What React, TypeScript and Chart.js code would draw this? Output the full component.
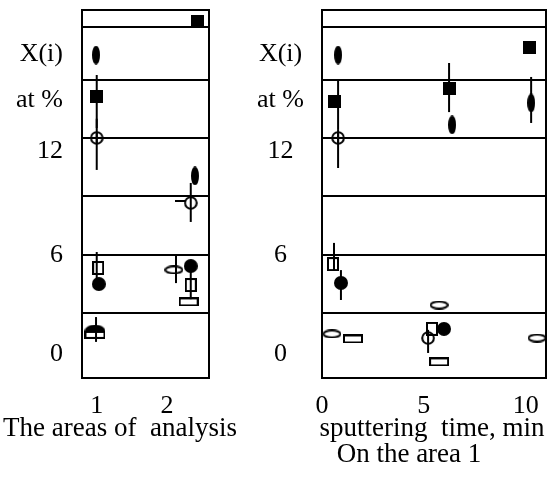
import React, { useEffect, useRef } from 'react';
import { Chart, registerables } from 'chart.js';

Chart.register(...registerables);

const FONT = "'Liberation Serif', 'Times New Roman', serif";

// ---------- axes ----------
const leftXTicks = [1, 2];
const rightXTicks = [0, 5, 10];
const yGridValues = [3, 6, 9, 12, 15, 17.7];
const yLabelValues = [0.88, 5.98, 11.34, 13.96, 16.33];
const yLabelTexts = ['0', '6', '12', 'at %', 'X(i)'];

// ---------- left panel: the areas of analysis ----------
const leftFilledSquare = [{ x: 2.44, y: 18.03 }, { x: 1.0, y: 14.12 }];
const leftFilledVEllipse = [{ x: 0.99, y: 16.28 }, { x: 2.4, y: 10.05 }];
const leftCircleCross = [{ x: 1.0, y: 12.01 }];
const leftOpenCircle = [{ x: 2.34, y: 8.66 }];
const leftOpenSquare = [{ x: 1.02, y: 5.31 }, { x: 2.34, y: 4.43 }];
const leftFilledCircle = [{ x: 1.03, y: 4.48 }, { x: 2.34, y: 5.41 }];
const leftOpenHEllipse = [{ x: 2.1, y: 5.21 }];
const leftOpenRect = [{ x: 2.31, y: 3.56 }];
const leftFilledHEllipse = [{ x: 0.975, y: 2.06 }];
const leftWhiteRect = [{ x: 0.975, y: 1.86 }];
// [x, yLow, yHigh]
const leftVErrors = [
  [1.0, 12.52, 15.25],
  [1.0, 10.36, 13.0],
  [2.34, 7.68, 9.69],
  [1.0, 4.6, 6.13],
  [2.13, 4.53, 5.98],
  [2.34, 3.7, 5.4],
  [0.99, 1.5, 2.78],
];
// [y, xLow, xHigh]
const leftHErrors = [[8.76, 2.115, 2.27]];

// ---------- right panel: sputtering time ----------
const rightFilledSquare = [{ x: 0.59, y: 13.91 }, { x: 6.24, y: 14.58 }, { x: 10.17, y: 16.69 }];
const rightFilledVEllipse = [{ x: 0.79, y: 16.28 }, { x: 6.39, y: 12.68 }, { x: 10.27, y: 13.81 }];
const rightCircleCross = [{ x: 0.79, y: 12.01 }];
const rightOpenSquare = [{ x: 0.54, y: 5.51 }, { x: 5.4, y: 2.17 }];
const rightFilledCircle = [{ x: 0.93, y: 4.54 }, { x: 5.99, y: 2.17 }];
const rightOpenCircle = [{ x: 5.21, y: 1.7 }];
const rightOpenHEllipse = [{ x: 0.49, y: 1.91 }, { x: 5.75, y: 3.4 }, { x: 10.56, y: 1.7 }];
const rightOpenRect = [{ x: 1.52, y: 1.65 }, { x: 5.75, y: 0.47 }];
const rightVErrors = [
  [0.79, 12.42, 15.0],
  [0.79, 10.46, 12.42],
  [6.24, 13.34, 15.87],
  [10.27, 12.78, 15.15],
  [0.59, 5.2, 6.6],
  [0.93, 3.66, 5.2],
  [5.21, 0.93, 2.12],
];
const rightHErrors: number[][] = [];

// ---------- marker images ----------
type Kind =
  | 'sqFilled' | 'vEllFilled' | 'circCross' | 'circOpen' | 'sqOpen'
  | 'circFilled' | 'hEllOpen' | 'rectOpen' | 'hEllFilled' | 'rectWhite';

function makeMarker(kind: Kind): HTMLCanvasElement {
  const dims: Record<Kind, [number, number]> = {
    sqFilled: [13, 13], vEllFilled: [8, 19], circCross: [14, 14], circOpen: [14, 14],
    sqOpen: [12, 14], circFilled: [14, 14], hEllOpen: [19, 9], rectOpen: [20, 9],
    hEllFilled: [21, 13], rectWhite: [21, 8],
  };
  const [w, h] = dims[kind];
  const c = document.createElement('canvas');
  c.width = w;
  c.height = h;
  const g = c.getContext('2d')!;
  g.fillStyle = '#000';
  g.strokeStyle = '#000';
  g.lineWidth = 2;
  const cx = w / 2, cy = h / 2;
  switch (kind) {
    case 'sqFilled':
      g.fillRect(0, 0, w, h);
      break;
    case 'vEllFilled':
    case 'hEllFilled':
    case 'circFilled':
      g.beginPath();
      g.ellipse(cx, cy, w / 2, h / 2, 0, 0, Math.PI * 2);
      g.fill();
      break;
    case 'circCross':
      g.beginPath();
      g.arc(cx, cy, w / 2 - 1.2, 0, Math.PI * 2);
      g.stroke();
      g.beginPath();
      g.moveTo(1, cy);
      g.lineTo(w - 1, cy);
      g.moveTo(cx, 1);
      g.lineTo(cx, h - 1);
      g.stroke();
      break;
    case 'circOpen':
      g.beginPath();
      g.arc(cx, cy, w / 2 - 1.2, 0, Math.PI * 2);
      g.stroke();
      break;
    case 'sqOpen':
    case 'rectOpen':
      g.strokeRect(1, 1, w - 2, h - 2);
      break;
    case 'hEllOpen':
      g.beginPath();
      g.ellipse(cx, cy, w / 2 - 1, h / 2 - 1, 0, 0, Math.PI * 2);
      g.stroke();
      break;
    case 'rectWhite':
      g.fillStyle = '#fff';
      g.fillRect(1, 1, w - 2, h - 2);
      g.strokeRect(1, 1, w - 2, h - 2);
      break;
  }
  return c;
}

const framePlugin = {
  id: 'frame',
  afterDatasetsDraw(chart: any) {
    const { ctx, chartArea } = chart;
    ctx.save();
    ctx.strokeStyle = '#000';
    ctx.lineWidth = 2;
    ctx.strokeRect(chartArea.left, chartArea.top, chartArea.right - chartArea.left, chartArea.bottom - chartArea.top);
    ctx.restore();
  },
};

function buildYTicks() {
  const list = [
    ...yGridValues.map((v) => ({ value: v, label: '', grid: true })),
    ...yLabelValues.map((v, i) => ({ value: v, label: yLabelTexts[i], grid: false })),
  ];
  return list.sort((a, b) => a.value - b.value);
}

function yScale(crossAlign: string, padding: number) {
  const ticks = buildYTicks();
  return {
    type: 'linear',
    min: -0.36,
    max: 18.6,
    afterBuildTicks: (s: any) => {
      s.ticks = ticks.map((t) => ({ value: t.value }));
    },
    afterFit: (s: any) => {
      s.width = 82;
      s.paddingTop = 0; s.paddingBottom = 0; s.paddingLeft = 0; s.paddingRight = 0;
    },
    grid: {
      color: (c: any) => {
        const t = c.tick && ticks.find((k) => k.value === c.tick.value);
        return t && t.grid ? '#000' : 'rgba(0,0,0,0)';
      },
      lineWidth: 2,
      drawTicks: false,
    },
    border: { display: false },
    ticks: {
      callback: (_v: any, i: number) => ticks[i].label,
      font: { family: FONT, size: 26 },
      color: '#000',
      padding,
      crossAlign,
      autoSkip: false,
    },
  };
}

function xScale(min: number, max: number, values: number[]) {
  return {
    type: 'linear',
    min,
    max,
    afterBuildTicks: (s: any) => {
      s.ticks = values.map((v) => ({ value: v }));
    },
    afterFit: (s: any) => {
      s.height = 117;
      s.paddingTop = 0; s.paddingBottom = 0; s.paddingLeft = 0; s.paddingRight = 0;
    },
    grid: { display: false, drawTicks: false },
    border: { display: false },
    ticks: {
      callback: (v: any) => String(v),
      font: { family: FONT, size: 26 },
      color: '#000',
      padding: 13,
      autoSkip: false,
      maxRotation: 0,
    },
  };
}

function markerSet(data: any[], kind: Kind) {
  return {
    data,
    pointStyle: makeMarker(kind),
    pointRadius: 6,
    pointHoverRadius: 6,
    showLine: false,
  };
}

function errorSets(v: number[][], h: number[][]) {
  const sets: any[] = [];
  v.forEach(([x, lo, hi]) =>
    sets.push({ data: [{ x, y: lo }, { x, y: hi }], showLine: true, pointRadius: 0, borderColor: '#000', borderWidth: 2 }),
  );
  h.forEach(([y, lo, hi]) =>
    sets.push({ data: [{ x: lo, y }, { x: hi, y }], showLine: true, pointRadius: 0, borderColor: '#000', borderWidth: 2 }),
  );
  return sets;
}

function makeChart(canvas: HTMLCanvasElement, datasets: any[], x: any, y: any, padRight: number) {
  return new Chart(canvas, {
    type: 'scatter',
    data: { datasets },
    options: {
      animation: false,
      responsive: false,
      devicePixelRatio: 1,
      layout: { padding: { top: 10, right: padRight, left: 0, bottom: 0 } },
      plugins: { legend: { display: false }, tooltip: { enabled: false } },
      events: [],
      scales: { x, y },
    } as any,
    plugins: [framePlugin],
  });
}

export default function App() {
  const leftRef = useRef<HTMLCanvasElement>(null);
  const rightRef = useRef<HTMLCanvasElement>(null);

  useEffect(() => {
    const leftSets = [
      ...errorSets(leftVErrors, leftHErrors),
      markerSet(leftWhiteRect, 'rectWhite'),
      markerSet(leftFilledHEllipse, 'hEllFilled'),
      markerSet(leftCircleCross, 'circCross'),
      markerSet(leftOpenCircle, 'circOpen'),
      markerSet(leftOpenSquare, 'sqOpen'),
      markerSet(leftOpenHEllipse, 'hEllOpen'),
      markerSet(leftOpenRect, 'rectOpen'),
      markerSet(leftFilledCircle, 'circFilled'),
      markerSet(leftFilledVEllipse, 'vEllFilled'),
      markerSet(leftFilledSquare, 'sqFilled'),
    ];
    const rightSets = [
      ...errorSets(rightVErrors, rightHErrors),
      markerSet(rightCircleCross, 'circCross'),
      markerSet(rightOpenCircle, 'circOpen'),
      markerSet(rightFilledCircle, 'circFilled'),
      markerSet(rightOpenSquare, 'sqOpen'),
      markerSet(rightOpenHEllipse, 'hEllOpen'),
      markerSet(rightOpenRect, 'rectOpen'),
      markerSet(rightFilledVEllipse, 'vEllFilled'),
      markerSet(rightFilledSquare, 'sqFilled'),
    ];
    const left = makeChart(leftRef.current!, leftSets, xScale(0.79, 2.6, leftXTicks), yScale('near', 19), 31);
    const right = makeChart(rightRef.current!, rightSets, xScale(0, 11, rightXTicks), yScale('center', 18), 9);
    return () => {
      left.destroy();
      right.destroy();
    };
  }, []);

  const textStyle: React.CSSProperties = {
    position: 'absolute',
    fontFamily: FONT,
    fontSize: 27,
    lineHeight: '1',
    whiteSpace: 'pre',
    textAlign: 'center',
    color: '#000',
    width: 320,
  };

  return (
    <div style={{ position: 'fixed', left: 0, top: 0, width: 555, height: 495, background: '#fff', overflow: 'hidden' }}>
      <canvas ref={leftRef} width={240} height={495} style={{ position: 'absolute', left: 0, top: 0 }} />
      <canvas ref={rightRef} width={315} height={495} style={{ position: 'absolute', left: 240, top: 0 }} />
      <div style={{ ...textStyle, left: 120 - 160, top: 414 }}>The areas of  analysis</div>
      <div style={{ ...textStyle, left: 432 - 160, top: 414 }}>sputtering  time, min</div>
      <div style={{ ...textStyle, left: 409 - 160, top: 440 }}>On the area 1</div>
    </div>
  );
}
